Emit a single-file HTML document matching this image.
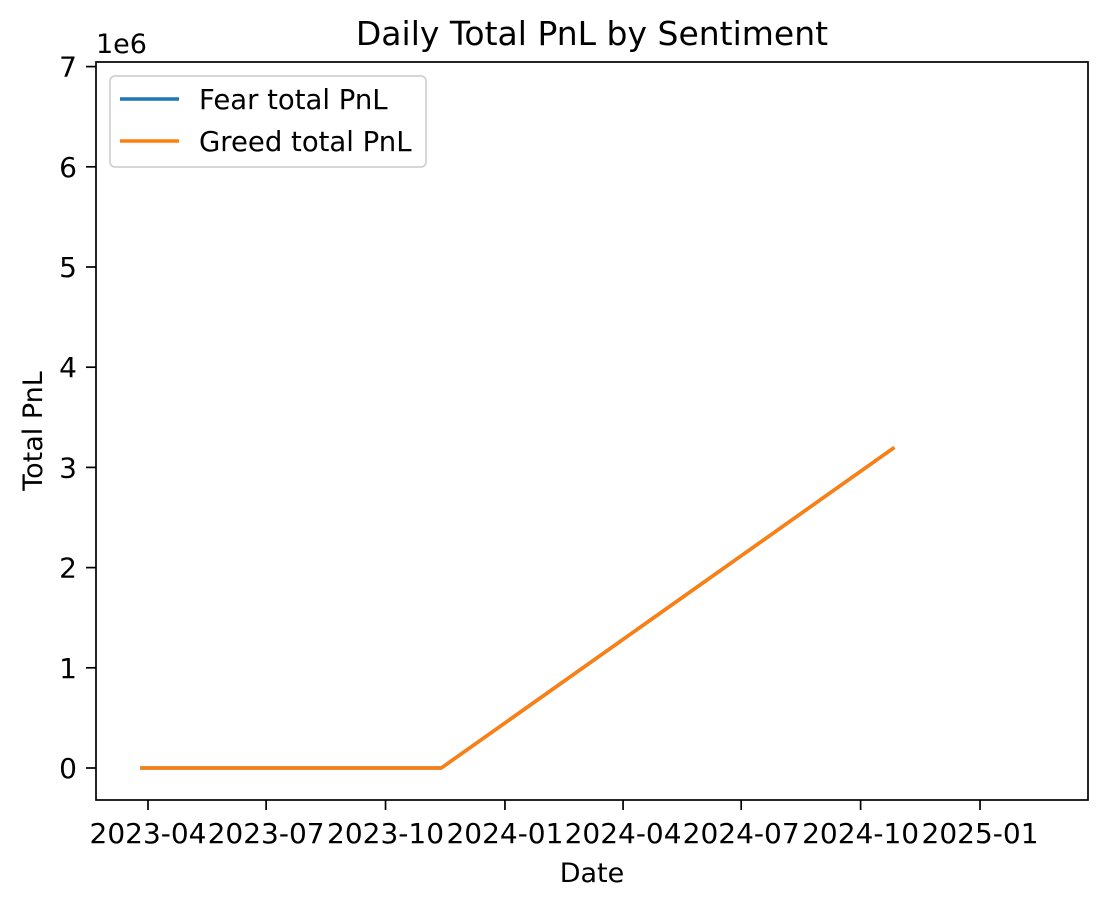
<!DOCTYPE html>
<html><head><meta charset="utf-8">
<style>
html,body{margin:0;padding:0;background:#fff;}
svg{display:block;font-family:"DejaVu Sans","Liberation Sans",sans-serif;}
</style></head>
<body>
<svg id="chart" width="1108" height="908" viewBox="0 0 1108 908">
<text x="592" y="45" font-size="33" text-anchor="middle">Daily Total PnL by Sentiment</text>
<g id="yticks"></g><g id="xticks"></g>
<g id="lines"></g>
<rect x="96" y="62" width="992" height="738" fill="none" stroke="#000" stroke-width="1.7"/>
<text x="96" y="53" font-size="27">1e6</text>
<text x="592" y="882" font-size="27" text-anchor="middle">Date</text>
<text x="42" y="431" font-size="27" text-anchor="middle" transform="rotate(-90 42 431)">Total PnL</text>
<g>
<rect x="110" y="76" width="316" height="91" rx="5" fill="#fff" stroke="#d0d0d0" stroke-width="1.7"/>
<line x1="120" y1="99" x2="179" y2="99" stroke="#1f77b4" stroke-width="3.5"/>
<text x="199" y="109" font-size="27.5">Fear total PnL</text>
<line x1="120" y1="141" x2="179" y2="141" stroke="#ff7f0e" stroke-width="3.5"/>
<text x="199" y="151" font-size="27.5">Greed total PnL</text>
</g>
</svg>
<script>
const dates = ["2023-03-26","2023-11-13","2024-10-27"];
const fearValues = [0, 0, 3.2e6];
const greedValues = [0, 0, 3.2e6];
const yTicks = [0,1,2,3,4,5,6,7];
const xTickLabels = ["2023-04","2023-07","2023-10","2024-01","2024-04","2024-07","2024-10","2025-01"];

const NS="http://www.w3.org/2000/svg";
const base=Date.UTC(2023,3,1);
const day=86400000;
function xs(d){const t=(Date.parse(d+(d.length===7?"-01":""))-base)/day;return 148+t*1.298;}
function ys(v){return 768-v/1e6*100.2;}
function mk(tag,attrs,parent){const e=document.createElementNS(NS,tag);for(const k in attrs)e.setAttribute(k,attrs[k]);parent.appendChild(e);return e;}
const yg=document.getElementById('yticks'),xg=document.getElementById('xticks'),lg=document.getElementById('lines');
yTicks.forEach(v=>{const y=ys(v*1e6);
 const l=mk('line',{x1:86,x2:96,y1:y,y2:y,stroke:'#000','stroke-width':1.7},yg);
 
 
 const t=mk('text',{x:77,y:y+10,'font-size':28,'text-anchor':'end'},yg);t.textContent=v;
 
 
});
xTickLabels.forEach(s=>{const x=xs(s);
 const l=mk('line',{x1:x,x2:x,y1:800,y2:810,stroke:'#000','stroke-width':1.7},xg);
 
 
 const t=mk('text',{x:x,y:843,'font-size':28,'text-anchor':'middle'},xg);t.textContent=s;
 
 
});
function line(vals,color,name){const pts=dates.map((d,i)=>xs(d).toFixed(1)+','+ys(vals[i]).toFixed(1)).join(' ');
 const p=mk('polyline',{points:pts,fill:'none',stroke:color,'stroke-width':3.5,'stroke-linejoin':'round'},lg);
 
 
}
line(fearValues,'#1f77b4','fear-line');
line(greedValues,'#ff7f0e','greed-line');
</script>
</body></html>
